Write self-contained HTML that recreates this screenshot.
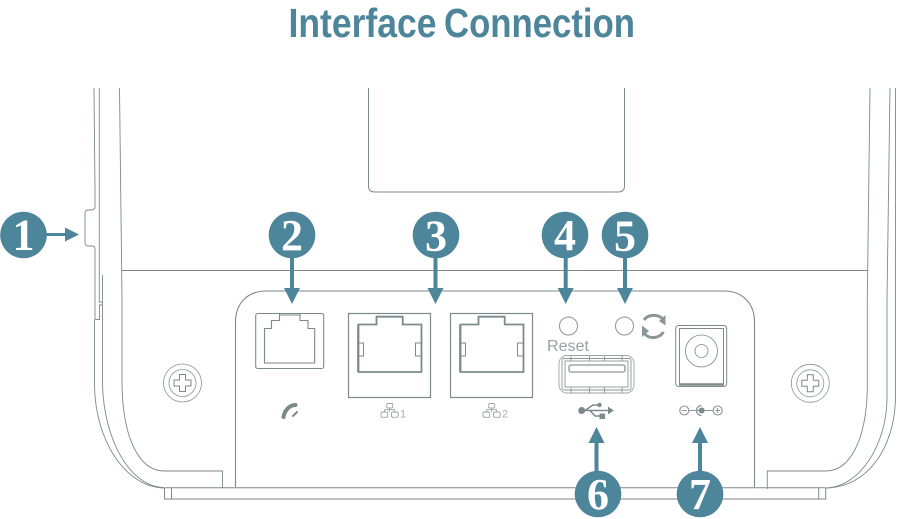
<!DOCTYPE html>
<html><head><meta charset="utf-8"><style>html,body{margin:0;padding:0;background:#fff;width:897px;height:519px;overflow:hidden}svg{display:block}</style></head>
<body>
<svg width="897" height="519" viewBox="0 0 897 519" xmlns="http://www.w3.org/2000/svg">
<defs>
<g id="screw" fill="none" stroke="#8a9698" stroke-width="0.8">
<circle r="19"/><circle r="13.5"/>
<path d="M-3-8.5H3V-3H8.5V3H3V8.5H-3V3H-8.5V-3H-3Z" stroke="#7c8a8c" stroke-width="1"/>
</g>
<g id="rj45" fill="none" stroke="#7c8a8c">
<rect x="348.5" y="313.5" width="82" height="84" stroke-width="1.2"/>
<path d="M358.5 324.500H376.500V316.700H402.700V324.500H421.500V372H358.500Z" stroke-width="1.800"/>
<path d="M358.500 343H363.500V356H358.500M421.500 343H415.500V356H421.500" stroke-width="1"/>
<path d="M357.500 325V372" stroke-width="0.800"/>
</g>
<g id="net" fill="none" stroke="#9aa5a7" stroke-width="0.9">
<rect x="386.700" y="403.500" width="6" height="4.500" rx="1"/>
<rect x="381" y="412" width="6.700" height="5.300" rx="1.500"/>
<rect x="391.500" y="412" width="6.700" height="5.300" rx="1.500"/>
<path d="M389.500 408V412M384.500 412V409.700H394.500V412"/>
</g>
</defs>

<text x="288.500" y="37" font-family="'Liberation Sans',sans-serif" font-weight="700" font-size="41" fill="#4d859b" textLength="148" lengthAdjust="spacingAndGlyphs">Interface</text>
<text x="444" y="37" font-family="'Liberation Sans',sans-serif" font-weight="700" font-size="41" fill="#4d859b" textLength="191" lengthAdjust="spacingAndGlyphs">Connection</text>

<g fill="none" stroke="#7c8a8c" stroke-width="0.9">
<!-- left side -->
<path d="M94 88L95 190V207C95 209 94 210 91 210H88C86 210 85 211 85 213V242C85 244 86 246 88 246H92C94 246 95 247 95 249V319.500H99.500V305H102M99.300 88V302H102"/>
<path d="M94.500 320V385C95 440 125 487 164 488"/>
<path d="M102.500 275V385C104 440 130 487 164 487.500"/>
<path d="M119.500 88L122 300V385C123 440 140 471 164 471H222.500V488"/>
<!-- right side -->
<path d="M870 88L867.300 300V390C866 440 850 471 826 471H767.300V489"/>
<path d="M890 88L887 300V400C886 445 860 487 826 488"/>
<path d="M895.500 88V400C894 445 870 487 826 488"/>
<!-- top display -->
<path d="M368.500 88V186Q368.500 192 375 192H618Q624.500 192 624.500 186V88" stroke-width="1"/>
<path d="M121.500 270.500H868" stroke-width="1.100"/>
<!-- panel -->
<path d="M235.500 487V322C235.500 303 248 291 266 291H724C742 291 754.500 303 754.500 322V487" stroke-width="1.100"/>
<!-- base -->
<path d="M164.500 488V499H825.700V488M171.500 488V499M818.700 488V499" stroke-width="1"/>
<path d="M164.500 487.700H825.700" stroke-width="1"/>
</g>

<use href="#screw" x="182.500" y="383"/>
<use href="#screw" x="810.300" y="383.300"/>

<!-- RJ11 -->
<g fill="none" stroke="#7c8a8c">
<rect x="255.700" y="313.500" width="68" height="55" rx="2" stroke-width="1.100"/>
<path d="M264.500 363V328.500H271.500V320.500H279.500V315H300V320.500H308V328.500H314.700V363Z" stroke-width="1.100"/>
<path d="M279.500 313.500V315M300 313.500V315" stroke-width="1"/>
</g>

<!-- RJ45 -->
<use href="#rj45"/>
<use href="#rj45" x="102"/>

<!-- icons below -->
<path d="M295.500 405C289 405 284.500 411 283.500 417" fill="none" stroke="#7c8a8c" stroke-width="4" stroke-linecap="round"/>
<path d="M297 412L293 416" fill="none" stroke="#7c8a8c" stroke-width="2" stroke-linecap="round"/>
<use href="#net"/>
<use href="#net" x="102"/>
<text x="400" y="417.500" font-family="'Liberation Sans',sans-serif" font-size="11" fill="#a5afb1">1</text>
<text x="502" y="417.500" font-family="'Liberation Sans',sans-serif" font-size="11" fill="#a5afb1">2</text>

<!-- LEDs -->
<circle cx="568.500" cy="326" r="9" fill="none" stroke="#8a9698" stroke-width="1"/>
<circle cx="624.500" cy="326" r="9" fill="none" stroke="#8a9698" stroke-width="1"/>
<g fill="none" stroke="#8a9698" stroke-width="3">
<path d="M644 320C648 314 658 314 663 319"/>
<path d="M663.500 332C659 339 649 339 645 334"/>
</g>
<path d="M659 321L665.500 315V325.500Z M649 331L642 325.500V337Z" fill="#8a9698"/>
<text x="547" y="351" font-family="'Liberation Sans',sans-serif" font-size="16" fill="#97a2a4" textLength="42" lengthAdjust="spacing">Reset</text>

<!-- USB port -->
<g fill="none" stroke="#8a9698" stroke-width="0.900">
<rect x="559" y="355.500" width="75" height="37.500" rx="8" stroke="#9aa5a7"/>
<rect x="562" y="358.500" width="69" height="31.500" rx="2"/>
<rect x="565" y="361" width="63" height="26"/>
<rect x="569" y="365" width="56" height="7" rx="2" stroke-width="1.300"/>
<path d="M571 356V361M589.500 356V361M604.500 356V361M622 356V361M571 387V393M589.500 387V393M604.500 387V393M622 387V393"/>
</g>

<!-- DC -->
<g fill="none" stroke="#7c8a8c">
<rect x="675.700" y="325.500" width="51" height="61" rx="3" stroke-width="1"/>
<path d="M679.500 328.500V385H723.500V328.500Z" stroke-width="1"/>
<path d="M680 384.500H723" stroke-width="2.500"/>
<circle cx="701.500" cy="351" r="16" stroke-width="0.800"/>
<circle cx="701.500" cy="351" r="6.500" stroke-width="0.800"/>
</g>

<!-- USB symbol -->
<g stroke="#7c8a8c" fill="#7c8a8c">
<circle cx="581.700" cy="410.500" r="3"/>
<path d="M582 410.500H610M585 410.500L593 405H598M590 410.500L595 416H600" fill="none" stroke-width="1.600"/>
<circle cx="599.500" cy="405" r="1.700"/>
<rect x="600" y="414" width="4.500" height="4.500"/>
<path d="M608.500 407.500V413.500L613 410.500Z"/>
</g>

<!-- DC symbol -->
<g fill="none" stroke="#8a9698" stroke-width="1.100">
<circle cx="684.300" cy="410.500" r="4.500"/>
<circle cx="717.700" cy="410.500" r="4.500"/>
<path d="M681.800 410.500H686.800M715.200 410.500H720.200M717.700 408V413M688.800 410.500H713.200"/>
<path d="M701.500 405.500A5 5 0 0 0 701.500 415.500" stroke-width="1.300"/>
</g>
<circle cx="701.700" cy="410.500" r="3" fill="#7c8a8c"/>

<!-- Arrows -->
<g fill="#4d859b">
<rect x="44" y="233" width="24" height="3"/><path d="M79 234.500L65 227.500V241.500Z"/>
<rect x="290" y="250" width="4" height="40"/><path d="M292 304L284 288H300Z"/>
<rect x="433.500" y="250" width="4" height="40"/><path d="M435.500 304L427.500 288H443.500Z"/>
<rect x="563.700" y="250" width="4" height="40"/><path d="M565.700 304L557.700 288H573.700Z"/>
<rect x="623" y="250" width="4" height="40"/><path d="M625 304L617 288H633Z"/>
<rect x="594.500" y="441" width="4" height="35"/><path d="M596.500 427L588.500 443H604.500Z"/>
<rect x="698" y="441" width="4" height="35"/><path d="M700 427L692 443H708Z"/>
<circle cx="23.500" cy="235" r="23.300"/>
<circle cx="292" cy="235" r="23.300"/>
<circle cx="436" cy="235" r="23.300"/>
<circle cx="565" cy="235" r="23.300"/>
<circle cx="625" cy="235" r="23.300"/>
<circle cx="598" cy="494" r="23.300"/>
<circle cx="700" cy="494" r="23.300"/>
</g>
<g font-family="'Liberation Serif',serif" font-weight="700" font-size="44" fill="#fff" text-anchor="middle">
<text x="23.500" y="249.500">1</text>
<text x="292" y="250">2</text>
<text x="436" y="250.500">3</text>
<text x="565" y="250">4</text>
<text x="625" y="250.500">5</text>
<text x="598" y="509">6</text>
<text x="700" y="509">7</text>
</g>
</svg>
</body></html>
